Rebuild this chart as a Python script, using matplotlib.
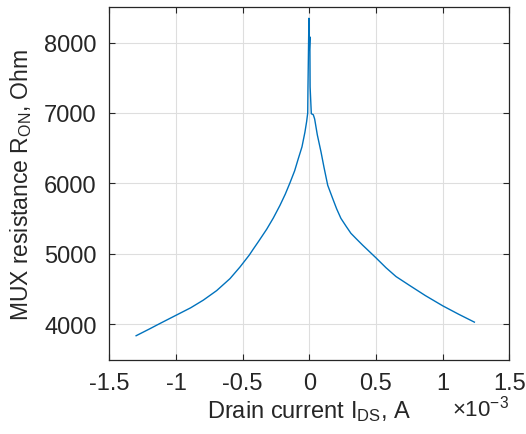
import matplotlib
matplotlib.use("Agg")
import matplotlib.pyplot as plt

plt.rcParams["font.family"] = ["Liberation Sans", "DejaVu Sans"]
plt.rcParams["mathtext.fontset"] = "custom"
plt.rcParams["mathtext.rm"] = "Liberation Sans"
plt.rcParams["mathtext.it"] = "Liberation Sans:italic"
plt.rcParams["axes.unicode_minus"] = False

# Drain current sweep (units of 1e-3 A) and measured on-resistance (Ohm)
drain_current_mA = [
    -1.299, -1.20, -1.12, -1.0, -0.89, -0.795, -0.695, -0.595, -0.52, -0.45,
    -0.42, -0.38, -0.32, -0.27, -0.22, -0.18, -0.145, -0.11, -0.083, -0.055,
    -0.033, -0.020, -0.012, -0.010, -0.003, 0.000, 0.004, 0.006, 0.015,
    0.030, 0.040, 0.060, 0.088, 0.110, 0.138, 0.175, 0.205, 0.237, 0.277,
    0.312, 0.355, 0.40, 0.45, 0.50, 0.575, 0.65, 0.75, 0.87, 1.0, 1.12, 1.238,
]
resistance_ohm = [
    3840, 3935, 4014, 4130, 4236, 4345, 4480, 4650, 4815, 4985,
    5070, 5180, 5350, 5510, 5690, 5850, 6010, 6180, 6350, 6520,
    6727, 6880, 7000, 7370, 8344, 7900, 8080, 7370, 6990,
    6975, 6915, 6690, 6445, 6230, 5975, 5788, 5640, 5505, 5390,
    5293, 5210, 5125, 5035, 4945, 4805, 4680, 4556, 4410, 4265, 4145, 4033,
]

x_ticks = [-1.5, -1, -0.5, 0, 0.5, 1, 1.5]
x_tick_labels = ["-1.5", "-1", "-0.5", "0", "0.5", "1", "1.5"]
y_ticks = [4000, 5000, 6000, 7000, 8000]

text_color = "#262626"
line_color = "#0072BD"

fig = plt.figure(figsize=(5.26, 4.35), dpi=100)
ax = fig.add_axes([0.2078, 0.1708, 0.7605, 0.8102])

ax.plot(drain_current_mA, resistance_ohm, color=line_color, linewidth=1.0)

ax.set_xlim(-1.5, 1.5)
ax.set_ylim(3500, 8500)
ax.set_xticks(x_ticks)
ax.set_xticklabels(x_tick_labels)
ax.set_yticks(y_ticks)

ax.grid(True, color="#dedede", linewidth=0.8)
ax.set_axisbelow(True)

for spine in ax.spines.values():
    spine.set_color(text_color)
    spine.set_linewidth(0.9)

ax.tick_params(direction="in", length=4, width=0.8, colors=text_color,
               labelsize=17, top=True, right=True)
ax.tick_params(axis="x", pad=9)
ax.tick_params(axis="y", pad=9)

ax.set_xlabel("Drain current I$_{\\mathrm{DS}}$, A", fontsize=17,
              color=text_color, labelpad=3)
ax.set_ylabel("MUX resistance R$_{\\mathrm{ON}}$, Ohm", fontsize=16.5,
              color=text_color, labelpad=7)

fig.text(0.968, 0.043, "\u00d710$^{-3}$", ha="right", va="baseline",
         fontsize=16, color=text_color)

fig.savefig("out.png", dpi=100)
